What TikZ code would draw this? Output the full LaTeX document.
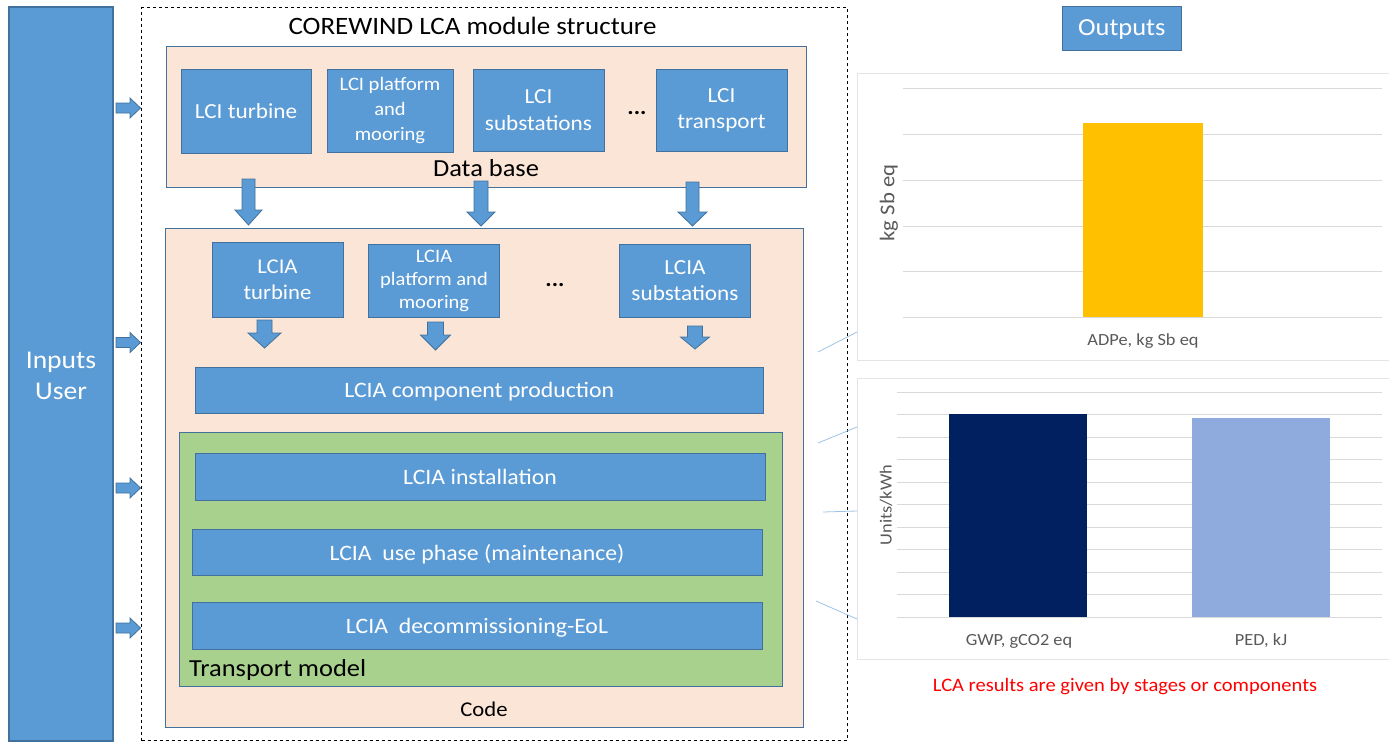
\documentclass[tikz,border=0pt]{standalone}
\usepackage{fontspec}
\setmainfont{Carlito}[FakeStretch=1.08]
\definecolor{bfill}{HTML}{5B9BD5}
\definecolor{bord}{HTML}{41719C}
\definecolor{peach}{HTML}{FBE5D6}
\definecolor{greenf}{HTML}{A9D18E}
\definecolor{gridc}{HTML}{D9D9D9}
\definecolor{txtg}{HTML}{595959}
\definecolor{gold}{HTML}{FFC000}
\definecolor{navy}{HTML}{002060}
\definecolor{lbar}{HTML}{8FAADC}
\definecolor{thinb}{HTML}{9DC3E6}
\newcommand\fs[1]{\fontsize{#1}{#1}\selectfont}
\newcommand\dnarrow[6]{%
  \draw[barrow] (#1-#5,#2) -- (#1+#5,#2) -- (#1+#5,#3) -- (#1+#6,#3) -- (#1,#4) -- (#1-#6,#3) -- (#1-#5,#3) -- cycle;}
\newcommand\rtarrow[1]{%
  \draw[barrow] (116,#1-5) -- (130,#1-5) -- (130,#1-10) -- (140.5,#1) -- (130,#1+10) -- (130,#1+5) -- (116,#1+5) -- cycle;}
\tikzset{
  blk/.style={draw=bord, fill=bfill, line width=1pt, text=white, align=center, inner sep=0pt},
  oneline/.style={text depth=0pt},
  container/.style={draw=bord, line width=1pt, inner sep=0pt},
  barrow/.style={draw=bord, fill=bfill, line width=0.8pt, line join=miter},
  lbl/.style={inner sep=0pt, text=black},
  grid/.style={draw=gridc, line width=1pt},
  frame/.style={draw=gridc!70, line width=1pt},
  thin/.style={draw=thinb, line width=0.8pt},
  axlbl/.style={inner sep=0pt, text=txtg},
}
\begin{document}
\begin{tikzpicture}[x=1pt,y=-1pt]
\useasboundingbox (0,0) rectangle (1389,742);
% inputs
\node[blk, minimum width=104, minimum height=734, line width=1.2pt] (inputs) at (61,374) {};
\node[inner sep=0pt, text=white, align=center, font=\fs{25.5}, text depth=0pt] (inputstxt) at (61,376) {Inputs\\[5pt]User};
% dashed container
\node[draw=black, dashed, line width=1pt, minimum width=705.5, minimum height=733, inner sep=0pt] (lca) at (494.25,374) {};
\node[lbl, font=\fs{25}] (title) at (472.5,25.5) {COREWIND LCA module structure};
% data base
\node[container, fill=peach, minimum width=640, minimum height=141] (db) at (486.5,117) {};
\node[lbl, font=\fs{24.5}] (dblbl) at (486,168) {Data base};
\node[blk, oneline, minimum width=130, minimum height=84, font=\fs{21.5}] (lcit) at (246,111) {LCI turbine};
\node[blk, minimum width=126, minimum height=83, font=\fs{19}] (lcip) at (390,111) {LCI platform\\[6pt]and\\[6pt]mooring};
\node[blk, minimum width=131, minimum height=82, font=\fs{21.5}] (lcis) at (538.5,110) {LCI\\[5pt]substations};
\node[lbl, font=\bfseries\fs{22}] (dots1) at (637,113) {...};
\node[blk, minimum width=131, minimum height=82, font=\fs{21.5}] (lcitr) at (721.5,110.5) {LCI\\[5pt]transport};
% arrows db -> code
\dnarrow{248.5}{179}{210}{225}{6.5}{13.5}
\dnarrow{481}{181}{212}{226}{7}{14}
\dnarrow{692.5}{182}{212}{226}{6.5}{14.5}
% code
\node[container, fill=peach, minimum width=637.5, minimum height=499] (code) at (484.25,477.5) {};
\node[lbl, font=\fs{21}] (codelbl) at (484,709.5) {Code};
\node[blk, minimum width=131, minimum height=75, font=\fs{21}] (lciat) at (277.5,280) {LCIA\\[5pt]turbine};
\node[blk, minimum width=131, minimum height=73, font=\fs{19}] (lciap) at (434,281) {LCIA\\[4pt]platform and\\[4pt]mooring};
\node[lbl, font=\bfseries\fs{22}] (dots2) at (555,285) {...};
\node[blk, minimum width=131, minimum height=73, font=\fs{21.5}] (lcias) at (685,280.5) {LCIA\\[5pt]substations};
\dnarrow{264.5}{320}{333}{348}{7.5}{16.5}
\dnarrow{435.5}{322}{335}{350}{8}{15}
\dnarrow{695}{326}{337}{349}{7.5}{14.5}
\node[blk, oneline, minimum width=568.5, minimum height=46, font=\fs{22}] (cprod) at (479.25,390) {LCIA component production};
% transport model
\node[container, fill=greenf, minimum width=603, minimum height=254] (tm) at (480.5,559) {};
\node[lbl, font=\fs{24.5}, anchor=west] (tmlbl) at (189,670) {Transport model};
\node[blk, oneline, minimum width=570, minimum height=47, font=\fs{22}] (inst) at (480,476.5) {LCIA installation};
\node[blk, oneline, minimum width=570, minimum height=46, font=\fs{22}] (use) at (477,552) {LCIA~ use phase (maintenance)};
\node[blk, oneline, minimum width=570, minimum height=47, font=\fs{22}] (decom) at (477,625.5) {LCIA~ decommissioning-EoL};
% input arrows
\rtarrow{108}
\rtarrow{342.5}
\rtarrow{488}
\rtarrow{628}
% outputs
\node[blk, oneline, minimum width=119.5, minimum height=44, font=\fs{24.5}] (outputs) at (1121.75,28) {Outputs};
% chart 1
\node[frame, minimum width=545, minimum height=287, inner sep=0pt] (chart1) at (1129.5,216.5) {};
\foreach \yy in {88,134,180,226,271,317} \draw[grid] (903,\yy) -- (1382,\yy);
\fill[gold] (1083,123) rectangle (1203,317);
\node[axlbl, font=\fs{21}, rotate=90] (c1y) at (889,203) {kg Sb eq};
\node[axlbl, font=\fs{17}] (c1x) at (1143,341) {ADPe, kg Sb eq};
% chart 2
\node[frame, minimum width=545, minimum height=281, inner sep=0pt] (chart2) at (1129.5,518.5) {};
\foreach \i in {0,...,10} \draw[grid] (897,392+22.5*\i) -- (1382,392+22.5*\i);
\fill[navy] (949,414) rectangle (1087,617);
\fill[lbar] (1192,418) rectangle (1330,617);
\node[axlbl, font=\fs{17}, rotate=90] (c2y) at (886,505) {Units/kWh};
\node[axlbl, font=\fs{17}] (c2x1) at (1019,641) {GWP, gCO2 eq};
\node[axlbl, font=\fs{17}] (c2x2) at (1261,641) {PED, kJ};
\node[inner sep=0pt, text=red, font=\fs{19}] (note) at (1125,687) {LCA results are given by stages or components};
% thin leftover lines
\draw[thin] (818,352) -- (857,332);
\draw[thin] (818,443) -- (857,427);
\draw[thin] (823,512) -- (857,511);
\draw[thin] (816,601) -- (857,619);
\end{tikzpicture}
\end{document}
